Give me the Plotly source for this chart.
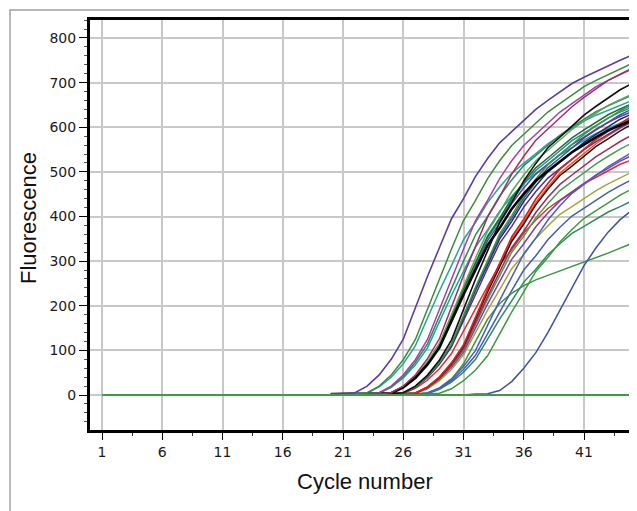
import plotly.graph_objects as go

# Cycle numbers for amplification curves (data recorded from cycle 20 to 45)
cycles = list(range(20, 46))
baseline_cycles = list(range(1, 46))
baseline_values = [0] * 45

# Fluorescence readings per well (cycles 20..45)
purple_a = [2,3,5,20,45,80,125,195,265,330,395,440,490,530,565,590,615,640,660,680,698,712,725,738,750,762]
green_a = [2,2,3,5,20,45,79,124,193,262,327,391,436,485,525,559,584,609,634,653,673,691,705,718,731,743]
maroon_a = [2,2,2,2,3,5,20,45,81,126,197,268,333,399,444,495,535,571,596,621,646,667,687,705,719,732]
magenta_a = [2,2,2,3,5,20,45,79,124,193,262,327,391,436,485,525,559,584,609,634,653,673,691,705,718,731]
black_a = [2,2,2,2,2,3,5,20,44,78,123,191,260,323,387,431,480,519,554,578,603,627,647,666,684,698]
green_b = [2,2,2,3,5,18,41,73,114,177,241,300,359,400,446,482,514,537,560,582,601,619,635,648,660,672]
teal_a = [2,2,3,4,18,40,70,110,172,233,290,348,387,431,466,497,519,541,563,581,598,614,627,638,649,660]
dkgreen_a = [2,2,2,2,3,5,18,41,72,113,176,239,297,356,396,441,477,509,531,554,576,594,612,628,641,653]
green_c = [2,2,2,2,2,3,5,18,41,73,114,178,242,301,361,402,447,484,516,539,561,584,603,621,637,650]
teal_b = [2,2,2,2,3,4,18,40,71,111,174,236,294,352,392,436,472,503,525,547,570,587,605,621,634,645]
blue_a = [2,2,2,2,2,3,5,18,41,72,113,176,239,297,356,396,441,477,509,531,554,576,594,612,628,641]
purple_b = [2,2,2,2,3,4,18,39,70,110,171,232,289,346,385,429,464,495,517,539,561,578,596,611,624,635]
navy_a = [2,2,2,2,2,3,4,18,40,71,111,173,235,292,350,389,434,469,500,522,544,566,584,602,618,630]
red_a = [2,2,2,2,2,2,3,4,18,40,72,112,175,237,295,354,394,439,474,506,528,550,573,591,609,625]
black_thick = [2,2,2,2,3,4,17,38,68,106,166,225,281,336,374,417,451,480,502,523,544,561,578,593,605,616]
orange_a = [2,2,2,2,2,2,3,4,18,40,70,110,172,233,290,348,387,431,466,497,519,541,563,581,598,614]
maroon_b = [2,2,2,2,2,2,3,4,17,38,67,104,163,221,276,330,367,409,443,472,493,514,534,551,568,583]
green_d = [2,2,2,2,2,2,2,4,16,36,65,101,158,215,267,320,356,397,429,458,478,498,518,535,551,565]
blue_b = [2,2,2,2,2,2,2,2,4,16,36,64,100,156,212,264,316,352,392,424,452,472,492,512,528,544]
purple_c = [2,2,2,2,2,2,2,4,15,35,62,96,150,204,254,304,339,377,408,435,454,474,493,508,524,537]
red_b = [2,2,2,2,2,2,4,15,33,59,93,144,196,244,292,326,363,392,418,437,455,474,488,503,517,527]
olive_a = [2,2,2,2,2,2,2,4,14,32,57,90,140,190,236,283,315,351,379,405,422,440,458,473,487,500]
blue_c = [2,2,2,2,2,2,2,2,4,14,32,57,89,138,188,234,280,312,348,376,401,419,437,454,469,483]
green_e = [2,2,2,2,2,2,2,2,2,4,14,32,56,88,137,186,231,277,308,343,371,396,413,431,448,462]
green_f = [2,2,2,2,2,2,2,2,3,13,29,51,80,125,170,211,253,282,314,339,362,378,394,410,422,435]
blue_late = [0,0,0,0,0,0,0,0,0,0,0,0,2,3,10,30,60,95,140,190,240,290,330,365,393,415]
green_low = [2,2,2,2,2,2,2,2,5,15,35,70,120,170,205,228,245,258,268,278,287,298,308,318,329,340]
teal_c = [2,2,2,3,4,17,38,67,105,164,223,277,332,370,412,445,475,496,517,538,554,571,586,598,609,620]
purple_d = [2,2,2,2,2,3,4,17,39,69,108,168,228,284,340,378,421,456,486,507,529,550,568,585,600,612]
green_g = [2,2,2,2,3,5,19,42,74,116,181,246,307,367,409,456,493,525,549,572,595,614,632,649,662,674]
black_b = [2,2,2,2,2,2,3,4,17,39,70,109,170,231,287,344,383,426,461,492,513,535,557,574,592,607]

series = [
    (green_low, "#3c9440", 1.5),
    (blue_late, "#3d4fa6", 1.5),
    (green_f, "#2e8b57", 1.5),
    (green_e, "#3c9a3c", 1.5),
    (blue_c, "#4060b0", 1.5),
    (olive_a, "#a8a43c", 1.5),
    (red_b, "#e0302a", 1.5),
    (purple_c, "#7a3fb0", 1.5),
    (blue_b, "#4b5fb8", 1.5),
    (green_d, "#4aa04a", 1.5),
    (maroon_b, "#9b2d5a", 1.5),
    (orange_a, "#f05020", 1.5),
    (black_b, "#1a1a1a", 1.5),
    (purple_d, "#5b2c8a", 1.5),
    (teal_c, "#1aa3a3", 1.5),
    (navy_a, "#1f2a6e", 1.5),
    (blue_a, "#3b4fa8", 1.5),
    (purple_b, "#6a3d9a", 1.5),
    (teal_b, "#178f8f", 1.5),
    (green_c, "#3a9a3a", 1.5),
    (dkgreen_a, "#1e6b3a", 1.5),
    (teal_a, "#2ca0a0", 1.5),
    (green_b, "#2e8b57", 1.5),
    (green_g, "#55aa55", 1.5),
    (red_a, "#e02020", 1.7),
    (black_thick, "#000000", 2.6),
    (black_a, "#111111", 1.6),
    (magenta_a, "#a040a8", 1.5),
    (maroon_a, "#a03060", 1.5),
    (green_a, "#3c8c3c", 1.5),
    (purple_a, "#5a3d9e", 1.6),
]

fig = go.Figure()
for vals, color, w in series:
    fig.add_trace(go.Scatter(x=cycles, y=vals, mode="lines",
                             line=dict(color=color, width=w), showlegend=False,
                             hoverinfo="skip"))

fig.add_trace(go.Scatter(x=baseline_cycles, y=baseline_values, mode="lines",
                         line=dict(color="#3f9a45", width=2), showlegend=False,
                         hoverinfo="skip"))

# page body has an 8px margin, so figure coords = screen coords - 8
OFF = 8
W, H = 637 - OFF, 511 - OFF
PL, PR, PT, PB = 90 - OFF, 637 - OFF, 20 - OFF, 430 - OFF
pw, ph = PR - PL, PB - PT

def px_x(p):
    return (p - OFF - PL) / pw

def px_y(p):
    return (PB - (p - OFF)) / ph

fig.update_layout(
    width=W, height=H,
    margin=dict(l=PL, r=W - PR, t=PT, b=H - PB, pad=0),
    paper_bgcolor="white", plot_bgcolor="white",
    font=dict(family="DejaVu Sans", size=14, color="#1a1a1a"),
    showlegend=False,
)

fig.update_xaxes(
    range=[1 - (102 - 90) / 12.05, 1 + (637 - 102) / 12.05],
    tick0=1, dtick=5,
    showgrid=True, gridcolor="#c8c8c8", gridwidth=2,
    showline=True, linecolor="black", linewidth=3, mirror=True,
    ticks="outside", ticklen=7, tickcolor="black", tickwidth=1,
    minor=dict(dtick=2.5, tick0=1, ticks="outside", ticklen=3, tickcolor="#333", showgrid=False),
    zeroline=False,
    tickfont=dict(family="DejaVu Sans", size=14, color="#1a1a1a"),
)
fig.update_yaxes(
    range=[-78.4, 840.3],
    tick0=0, dtick=100,
    showgrid=True, gridcolor="#c8c8c8", gridwidth=2,
    showline=True, linecolor="black", linewidth=3, mirror=False,
    ticks="outside", ticklen=8, tickcolor="black", tickwidth=1,
    minor=dict(dtick=20, tick0=0, ticks="outside", ticklen=3, tickcolor="#555", showgrid=False),
    zeroline=False,
    tickfont=dict(family="DejaVu Sans", size=14, color="#1a1a1a"),
)

fig.add_annotation(text="Cycle number", xref="paper", yref="paper",
                   x=px_x(365), y=px_y(481), xanchor="center", yanchor="middle",
                   showarrow=False, font=dict(family="Liberation Sans", size=22, color="#111"))
fig.add_annotation(text="Fluorescence", xref="paper", yref="paper",
                   x=px_x(28), y=px_y(218), xanchor="center", yanchor="middle", textangle=-90,
                   showarrow=False, font=dict(family="Liberation Sans", size=22, color="#111"))

fig.add_shape(type="rect", xref="paper", yref="paper",
              x0=px_x(10), x1=px_x(700), y0=px_y(560), y1=px_y(10),
              line=dict(color="#a0a0a0", width=1.5), fillcolor="rgba(0,0,0,0)", layer="below")

fig.write_html("out.html")
